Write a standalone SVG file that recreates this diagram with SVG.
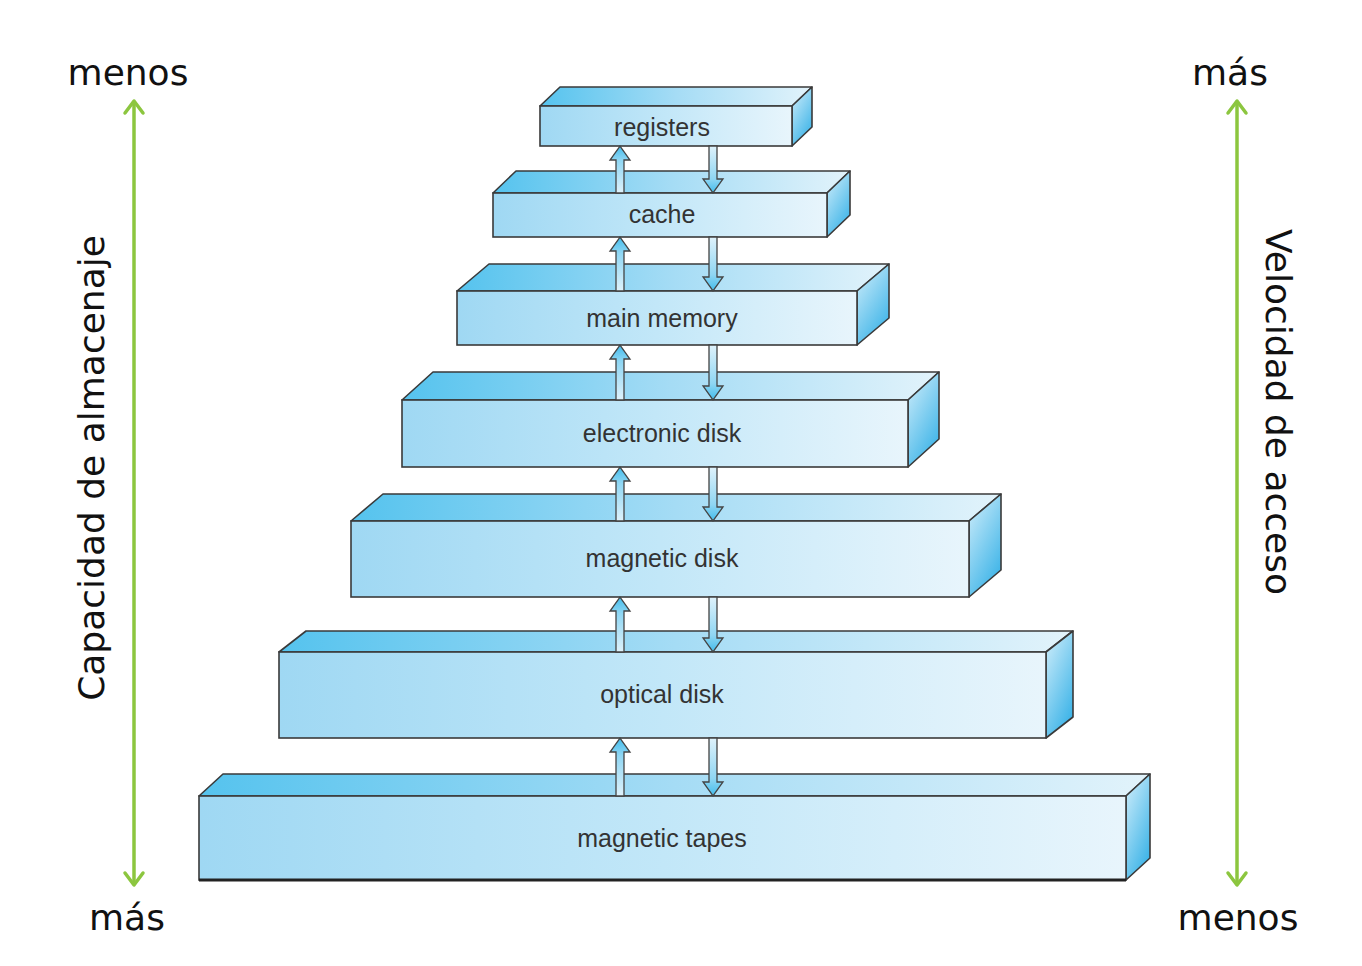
<svg xmlns="http://www.w3.org/2000/svg" width="1362" height="966" viewBox="0 0 1362 966">
<defs>
<style>
.front{fill:url(#gFront);stroke:#3a3a3a;stroke-width:1.6}
.top{fill:url(#gTop);stroke:#3a3a3a;stroke-width:1.6;stroke-linejoin:round}
.side{fill:url(#gSide);stroke:#3a3a3a;stroke-width:1.6;stroke-linejoin:round}
.lbl{font-family:"Liberation Sans",Arial,sans-serif;font-size:25px;fill:#333;text-anchor:middle}
.side-txt{font-family:"DejaVu Sans",Verdana,sans-serif;font-size:36px;fill:#111;text-anchor:middle}
.up{fill:url(#gUp);stroke:#444;stroke-width:1.3;stroke-linejoin:miter}
.down{fill:url(#gDown);stroke:#444;stroke-width:1.3;stroke-linejoin:miter}
.green{stroke:#8cc63f;stroke-width:3.5;fill:none}
.ghead{stroke:#8cc63f;stroke-width:3.5;fill:none;stroke-linecap:round;stroke-linejoin:round}
</style>
<linearGradient id="gFront" x1="0" y1="0" x2="1" y2="0">
<stop offset="0" stop-color="#9fd8f3"/>
<stop offset="0.5" stop-color="#c2e7f8"/>
<stop offset="1" stop-color="#e8f5fc"/>
</linearGradient>
<linearGradient id="gTop" x1="0" y1="0" x2="1" y2="0">
<stop offset="0" stop-color="#55c3ee"/>
<stop offset="0.5" stop-color="#a5dcf5"/>
<stop offset="1" stop-color="#e2f3fb"/>
</linearGradient>
<linearGradient id="gSide" x1="0" y1="0" x2="0.6" y2="1">
<stop offset="0" stop-color="#d4effb"/>
<stop offset="1" stop-color="#40b5e8"/>
</linearGradient>
<linearGradient id="gUp" x1="0" y1="0" x2="0" y2="1">
<stop offset="0" stop-color="#42bcec"/>
<stop offset="0.3" stop-color="#8fd6f3"/>
<stop offset="1" stop-color="#dff2fb"/>
</linearGradient>
<linearGradient id="gDown" x1="0" y1="1" x2="0" y2="0">
<stop offset="0" stop-color="#42bcec"/>
<stop offset="0.3" stop-color="#8fd6f3"/>
<stop offset="1" stop-color="#dff2fb"/>
</linearGradient>
</defs>
<rect width="1362" height="966" fill="#ffffff"/>

<g id="registers">
<polygon class="top" points="540,106 560,87 812,87 792,106"/>
<polygon class="side" points="792,106 812,87 812,127 792,146"/>
<rect class="front" x="540" y="106" width="252" height="40"/>
<text class="lbl" x="662" y="136">registers</text>
</g>
<g id="cache">
<polygon class="top" points="493,193 516,171 850,171 827,193"/>
<polygon class="side" points="827,193 850,171 850,215 827,237"/>
<rect class="front" x="493" y="193" width="334" height="44"/>
<text class="lbl" x="662" y="223">cache</text>
</g>
<g id="main-memory">
<polygon class="top" points="457,291 489,264 889,264 857,291"/>
<polygon class="side" points="857,291 889,264 889,318 857,345"/>
<rect class="front" x="457" y="291" width="400" height="54"/>
<text class="lbl" x="662" y="327">main memory</text>
</g>
<g id="electronic-disk">
<polygon class="top" points="402,400 433,372 939,372 908,400"/>
<polygon class="side" points="908,400 939,372 939,439 908,467"/>
<rect class="front" x="402" y="400" width="506" height="67"/>
<text class="lbl" x="662" y="442">electronic disk</text>
</g>
<g id="magnetic-disk">
<polygon class="top" points="351,521 383,494 1001,494 969,521"/>
<polygon class="side" points="969,521 1001,494 1001,570 969,597"/>
<rect class="front" x="351" y="521" width="618" height="76"/>
<text class="lbl" x="662" y="567">magnetic disk</text>
</g>
<g id="optical-disk">
<polygon class="top" points="279,652 306,631 1073,631 1046,652"/>
<polygon class="side" points="1046,652 1073,631 1073,717 1046,738"/>
<rect class="front" x="279" y="652" width="767" height="86"/>
<text class="lbl" x="662" y="703">optical disk</text>
</g>
<g id="magnetic-tapes">
<polygon class="top" points="199,796 223,774 1150,774 1126,796"/>
<polygon class="side" points="1126,796 1150,774 1150,858 1126,880"/>
<rect class="front" x="199" y="796" width="927" height="84"/>
<line x1="199" y1="880" x2="1126" y2="880" stroke="#222" stroke-width="3"/>
<text class="lbl" x="662" y="847">magnetic tapes</text>
</g>

<g id="connectors">
<path class="up" d="M616,193 V160 H610 L620,146 L630,160 H624 V193 Z"/>
<path class="down" d="M709,146 V179 H703 L713,193 L723,179 H717 V146 Z"/>
<path class="up" d="M616,291 V251 H610 L620,237 L630,251 H624 V291 Z"/>
<path class="down" d="M709,237 V277 H703 L713,291 L723,277 H717 V237 Z"/>
<path class="up" d="M616,400 V359 H610 L620,345 L630,359 H624 V400 Z"/>
<path class="down" d="M709,345 V386 H703 L713,400 L723,386 H717 V345 Z"/>
<path class="up" d="M616,521 V481 H610 L620,467 L630,481 H624 V521 Z"/>
<path class="down" d="M709,467 V507 H703 L713,521 L723,507 H717 V467 Z"/>
<path class="up" d="M616,652 V611 H610 L620,597 L630,611 H624 V652 Z"/>
<path class="down" d="M709,597 V638 H703 L713,652 L723,638 H717 V597 Z"/>
<path class="up" d="M616,796 V752 H610 L620,738 L630,752 H624 V796 Z"/>
<path class="down" d="M709,738 V782 H703 L713,796 L723,782 H717 V738 Z"/>
</g>

<g id="left-axis">
<line class="green" x1="134" y1="102" x2="134" y2="884"/>
<polyline class="ghead" points="125,113 134,101 143,113"/>
<polyline class="ghead" points="125,873 134,885 143,873"/>
<text class="side-txt" x="128" y="85">menos</text>
<text class="side-txt" x="127" y="930">más</text>
<text class="side-txt" transform="translate(104,468) rotate(-90)">Capacidad de almacenaje</text>
</g>
<g id="right-axis">
<line class="green" x1="1237" y1="102" x2="1237" y2="884"/>
<polyline class="ghead" points="1228,113 1237,101 1246,113"/>
<polyline class="ghead" points="1228,873 1237,885 1246,873"/>
<text class="side-txt" x="1230" y="85">más</text>
<text class="side-txt" x="1238" y="930">menos</text>
<text class="side-txt" transform="translate(1266,412) rotate(90)">Velocidad de acceso</text>
</g>
</svg>
